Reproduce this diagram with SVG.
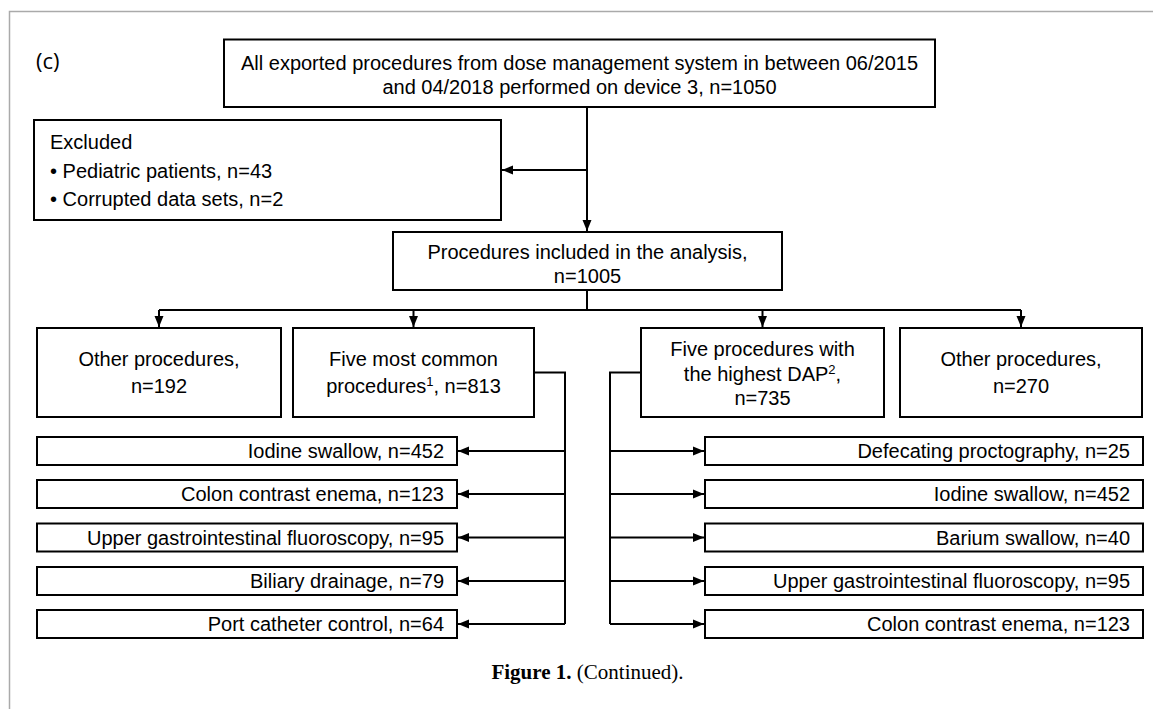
<svg xmlns="http://www.w3.org/2000/svg" width="1153" height="709" viewBox="0 0 1153 709">
<style>
.box{fill:#fff;stroke:#000;stroke-width:2}
.t{font-family:"Liberation Sans",Arial,sans-serif;font-size:20px;fill:#000}
.c{text-anchor:middle}
.r{text-anchor:end}
.ln{fill:none;stroke:#000;stroke-width:2}
.sup{font-size:13px}
</style>
<defs>
<marker id="ah" markerUnits="userSpaceOnUse" markerWidth="12" markerHeight="10" refX="11" refY="5" orient="auto">
<path d="M0,0.5 L11,5 L0,9.5 Z" fill="#000"/>
</marker>
</defs>
<rect width="1153" height="709" fill="#fff"/>
<path d="M9.5 709 V11.5 H1153" fill="none" stroke="#aaa" stroke-width="1.5"/>
<text x="36" y="69" style="font-family:'Open Sans',sans-serif;font-size:22px">(c)</text>

<g id="connectors">
<path class="ln" d="M587 107 V231" marker-end="url(#ah)"/>
<path class="ln" d="M587 170 H502" marker-end="url(#ah)"/>
<path class="ln" d="M587 290 V310"/>
<path class="ln" d="M159 310 H1021"/>
<path class="ln" d="M159 310 V327" marker-end="url(#ah)"/>
<path class="ln" d="M413.5 310 V327" marker-end="url(#ah)"/>
<path class="ln" d="M762.5 310 V327" marker-end="url(#ah)"/>
<path class="ln" d="M1021 310 V327" marker-end="url(#ah)"/>
<path class="ln" d="M534 372.5 H565 V624"/>
<path class="ln" d="M565 451 H458" marker-end="url(#ah)"/>
<path class="ln" d="M565 494 H458" marker-end="url(#ah)"/>
<path class="ln" d="M565 537.5 H458" marker-end="url(#ah)"/>
<path class="ln" d="M565 581 H458" marker-end="url(#ah)"/>
<path class="ln" d="M565 624 H458" marker-end="url(#ah)"/>
<path class="ln" d="M641 372.5 H610 V624"/>
<path class="ln" d="M610 451 H704" marker-end="url(#ah)"/>
<path class="ln" d="M610 494 H704" marker-end="url(#ah)"/>
<path class="ln" d="M610 537.5 H704" marker-end="url(#ah)"/>
<path class="ln" d="M610 581 H704" marker-end="url(#ah)"/>
<path class="ln" d="M610 624 H704" marker-end="url(#ah)"/>
</g>

<g id="all">
<rect class="box" x="224" y="39.5" width="711" height="67.5"/>
<text class="t c" x="579.5" y="70">All exported procedures from dose management system in between 06/2015</text>
<text class="t c" x="579.5" y="94">and 04/2018 performed on device 3, n=1050</text>
</g>

<g id="excluded">
<rect class="box" x="34" y="120" width="467" height="100"/>
<text class="t" x="50" y="149">Excluded</text>
<text class="t" x="50" y="178">• Pediatric patients, n=43</text>
<text class="t" x="50" y="206">• Corrupted data sets, n=2</text>
</g>

<g id="included">
<rect class="box" x="393" y="232" width="389" height="58"/>
<text class="t c" x="587.5" y="259">Procedures included in the analysis,</text>
<text class="t c" x="587.5" y="283">n=1005</text>
</g>

<g id="other1">
<rect class="box" x="37" y="328" width="244" height="89"/>
<text class="t c" x="159" y="366">Other procedures,</text>
<text class="t c" x="159" y="393">n=192</text>
</g>

<g id="common">
<rect class="box" x="293" y="328" width="241" height="89"/>
<text class="t c" x="413.5" y="366">Five most common</text>
<text class="t c" x="413.5" y="393">procedures<tspan class="sup" dy="-7">1</tspan><tspan dy="7">, n=813</tspan></text>
</g>

<g id="highest">
<rect class="box" x="641" y="328" width="243" height="89"/>
<text class="t c" x="762.5" y="356">Five procedures with</text>
<text class="t c" x="762.5" y="380.5">the highest DAP<tspan class="sup" dy="-7">2</tspan><tspan dy="7">,</tspan></text>
<text class="t c" x="762.5" y="405">n=735</text>
</g>

<g id="other2">
<rect class="box" x="900" y="328" width="242" height="89"/>
<text class="t c" x="1021" y="366">Other procedures,</text>
<text class="t c" x="1021" y="393">n=270</text>
</g>

<g id="l1"><rect class="box" x="37" y="437" width="420" height="28"/><text class="t r" x="444" y="458">Iodine swallow, n=452</text></g>
<g id="l2"><rect class="box" x="37" y="480" width="420" height="28"/><text class="t r" x="444" y="501">Colon contrast enema, n=123</text></g>
<g id="l3"><rect class="box" x="37" y="523.5" width="420" height="28"/><text class="t r" x="444" y="544.5">Upper gastrointestinal fluoroscopy, n=95</text></g>
<g id="l4"><rect class="box" x="37" y="567" width="420" height="28"/><text class="t r" x="444" y="588">Biliary drainage, n=79</text></g>
<g id="l5"><rect class="box" x="37" y="610" width="420" height="28"/><text class="t r" x="444" y="631">Port catheter control, n=64</text></g>

<g id="r1"><rect class="box" x="705" y="437" width="438" height="28"/><text class="t r" x="1130" y="458">Defecating proctography, n=25</text></g>
<g id="r2"><rect class="box" x="705" y="480" width="438" height="28"/><text class="t r" x="1130" y="501">Iodine swallow, n=452</text></g>
<g id="r3"><rect class="box" x="705" y="523.5" width="438" height="28"/><text class="t r" x="1130" y="544.5">Barium swallow, n=40</text></g>
<g id="r4"><rect class="box" x="705" y="567" width="438" height="28"/><text class="t r" x="1130" y="588">Upper gastrointestinal fluoroscopy, n=95</text></g>
<g id="r5"><rect class="box" x="705" y="610" width="438" height="28"/><text class="t r" x="1130" y="631">Colon contrast enema, n=123</text></g>

<text x="587.5" y="679" text-anchor="middle" style="font-family:'Liberation Serif',serif;font-size:21px"><tspan font-weight="bold">Figure 1.</tspan> (Continued).</text>
</svg>
